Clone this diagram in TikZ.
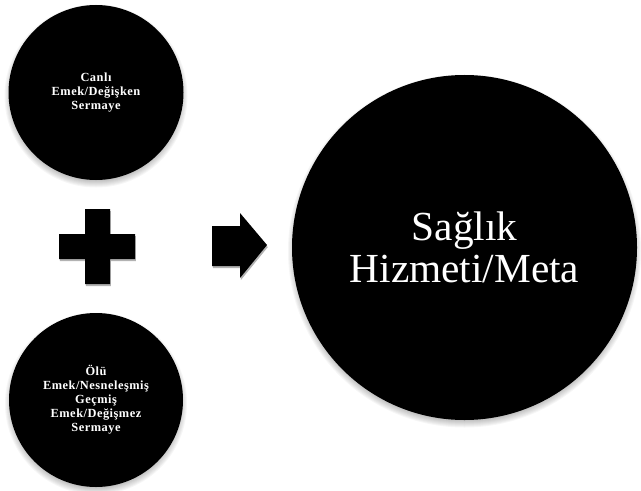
\documentclass[tikz,border=0pt]{standalone}
\usepackage{fontspec}
\setmainfont{Liberation Serif}
\newfontfamily\smallfont[LetterSpace=4]{Liberation Serif}
\usetikzlibrary{shadows}
\begin{document}
\begin{tikzpicture}[x=0.75pt,y=0.75pt,
  blob/.style={circle,fill=black,inner sep=0pt,text=white,align=center},
  smalltext/.style={font=\smallfont\bfseries\fontsize{9.3pt}{10.5pt}\selectfont},
  bigtext/.style={font=\fontsize{31pt}{31pt}\selectfont},
  symshadow/.style={drop shadow={shadow xshift=0.6pt,shadow yshift=-1.6pt,opacity=0.3,fill=black}}]
\useasboundingbox (0,0) rectangle (641,490);
% soft shadows
\foreach \cx/\cy/\r in {96/397.5/87.5, 96/90/87, 464.5/242.5/172.5}{
  \foreach \i in {0,...,7}{
    \fill[black,opacity=0.035] (\cx,\cy-3.5) circle[radius=\r+4-\i];
  }
}
\node[blob,minimum size=175*0.75pt,smalltext] (c1) at (96,397.5) {Canlı\\Emek/Değişken\\Sermaye};
\node[blob,minimum size=174*0.75pt,smalltext] (c2) at (96,90) {Ölü\\Emek/Nesneleşmiş\\Geçmiş\\Emek/Değişmez\\Sermaye};
\node[blob,minimum size=345*0.75pt,bigtext] (big) at (464.5,242.5) {Sağlık\\Hizmeti/Meta};
% plus sign
\fill[black,symshadow] (85,206) -- (110,206) -- (110,231) -- (135,231) -- (135,256) -- (110,256) -- (110,281) -- (85,281) -- (85,256) -- (59,256) -- (59,231) -- (85,231) -- cycle;
% arrow
\fill[black,symshadow] (212,224) -- (240,224) -- (240,212) -- (267,245) -- (240,277) -- (240,264) -- (212,264) -- cycle;
\end{tikzpicture}
\end{document}
